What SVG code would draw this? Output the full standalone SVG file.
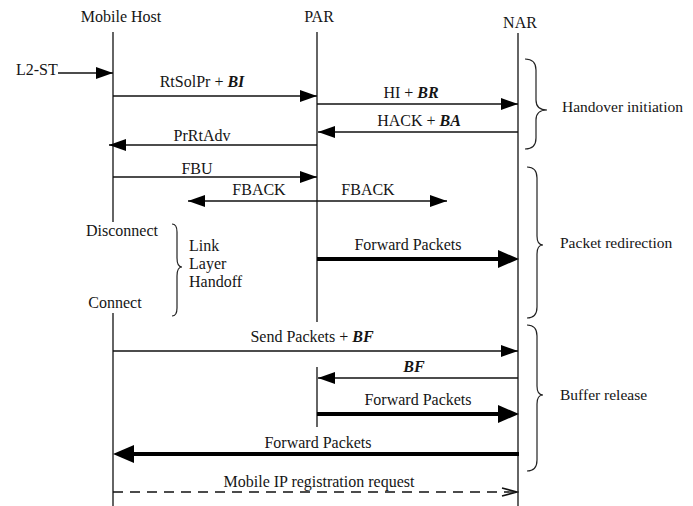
<svg xmlns="http://www.w3.org/2000/svg" width="693" height="506" viewBox="0 0 693 506" font-family="'Liberation Serif', 'DejaVu Serif', serif">
<style>
text{font-family:'Liberation Serif','DejaVu Serif',serif;font-size:16px;fill:#151515}
.c{text-anchor:middle}
.r{font-size:15.5px}
.bi{font-weight:bold;font-style:italic}
.life{stroke:#111;stroke-width:1.3;fill:none}
.msg{stroke:#111;stroke-width:1.3;fill:none}
.thick{stroke:#000;stroke-width:4;fill:none}
.dash{stroke:#111;stroke-width:1.3;fill:none;stroke-dasharray:10 7}
.brace{stroke:#222;stroke-width:1.2;fill:none}
</style>
<defs>
<marker id="ah" markerUnits="userSpaceOnUse" markerWidth="18" markerHeight="13" refX="17" refY="6" orient="auto-start-reverse">
<path d="M0,0 L17,6 L0,12 z" fill="#000"/>
</marker>
<marker id="ahT" markerUnits="userSpaceOnUse" markerWidth="22" markerHeight="19" refX="8" refY="9" orient="auto-start-reverse">
<path d="M0,0 L21,9 L0,18 z" fill="#000"/>
</marker>
<marker id="ahO" markerUnits="userSpaceOnUse" markerWidth="18" markerHeight="12" refX="16" refY="5" orient="auto">
<path d="M1,1 L16,5 L1,9" fill="none" stroke="#111" stroke-width="1.5"/>
</marker>
</defs>
<rect width="693" height="506" fill="#fff"/>

<g id="mobile-host">
<text class="c" x="121" y="22">Mobile Host</text>
<line class="life" x1="113" y1="32" x2="113" y2="222"/>
<line class="life" x1="113" y1="313" x2="113" y2="506"/>
</g>
<g id="par">
<text class="c" x="319" y="22">PAR</text>
<line class="life" x1="317" y1="32" x2="317" y2="322"/>
<line class="life" x1="317" y1="367" x2="317" y2="427"/>
</g>
<g id="nar">
<text class="c" x="520" y="28">NAR</text>
<line class="life" x1="518" y1="33" x2="518" y2="506"/>
</g>

<g id="connectors">
<line class="msg" x1="58" y1="73" x2="113" y2="73" marker-end="url(#ah)"/>
<line class="msg" x1="113" y1="96" x2="317" y2="96" marker-end="url(#ah)"/>
<line class="msg" x1="317" y1="104" x2="518" y2="104" marker-end="url(#ah)"/>
<line class="msg" x1="518" y1="132" x2="318" y2="132" marker-end="url(#ah)"/>
<line class="msg" x1="317" y1="145" x2="109" y2="145" marker-end="url(#ah)"/>
<line class="msg" x1="113" y1="177" x2="317" y2="177" marker-end="url(#ah)"/>
<line class="msg" x1="188" y1="201" x2="447" y2="201" marker-start="url(#ah)" marker-end="url(#ah)"/>
<line class="thick" x1="317" y1="259" x2="506" y2="259" marker-end="url(#ahT)"/>
<line class="msg" x1="113" y1="351" x2="518" y2="351" marker-end="url(#ah)"/>
<line class="msg" x1="518" y1="378" x2="318" y2="378" marker-end="url(#ah)"/>
<line class="thick" x1="317" y1="414" x2="506" y2="414" marker-end="url(#ahT)"/>
<line class="thick" x1="519" y1="454" x2="126" y2="454" marker-end="url(#ahT)"/>
<line class="dash" x1="113" y1="492" x2="517" y2="492" marker-end="url(#ahO)"/>
</g>

<g id="labels">
<text x="16" y="75">L2-ST</text>
<text class="c" x="202" y="87">RtSolPr + <tspan class="bi">BI</tspan></text>
<text class="c" x="411" y="98">HI + <tspan class="bi">BR</tspan></text>
<text class="c" x="419" y="126">HACK + <tspan class="bi">BA</tspan></text>
<text class="c" x="202" y="141">PrRtAdv</text>
<text class="c" x="197" y="174">FBU</text>
<text class="c" x="259" y="195">FBACK</text>
<text class="c" x="368" y="195">FBACK</text>
<text class="c" x="408" y="250">Forward Packets</text>
<text class="c" x="312" y="342">Send Packets + <tspan class="bi">BF</tspan></text>
<text class="c" x="414" y="372"><tspan class="bi">BF</tspan></text>
<text class="c" x="418" y="405">Forward Packets</text>
<text class="c" x="318" y="448">Forward Packets</text>
<text class="c" x="319" y="487">Mobile IP registration request</text>
</g>

<g id="link-layer-handoff">
<text class="c" x="122" y="236">Disconnect</text>
<text class="c" x="115" y="308">Connect</text>
<path class="brace" d="M172,224 Q177,224 177,232 L177,258 Q177,267 182,267 Q177,267 177,276 L177,308 Q177,316 172,316"/>
<text x="189" y="251">Link</text>
<text x="189" y="269">Layer</text>
<text x="189" y="287">Handoff</text>
</g>

<g id="handover-initiation">
<path class="brace" d="M525,59 Q536,59 536,70 L536,100 Q536,110 547,110 Q536,110 536,120 L536,138 Q536,149 525,149"/>
<text class="r" x="562" y="112">Handover initiation</text>
</g>
<g id="packet-redirection">
<path class="brace" d="M527,167 Q537,167 537,178 L537,236 Q537,245 543,245 Q537,245 537,254 L537,307 Q537,318 527,318"/>
<text class="r" x="560" y="248">Packet redirection</text>
</g>
<g id="buffer-release">
<path class="brace" d="M527,325 Q537,325 537,336 L537,386 Q537,395 543,395 Q537,395 537,404 L537,460 Q537,471 527,471"/>
<text class="r" x="560" y="400">Buffer release</text>
</g>
</svg>
